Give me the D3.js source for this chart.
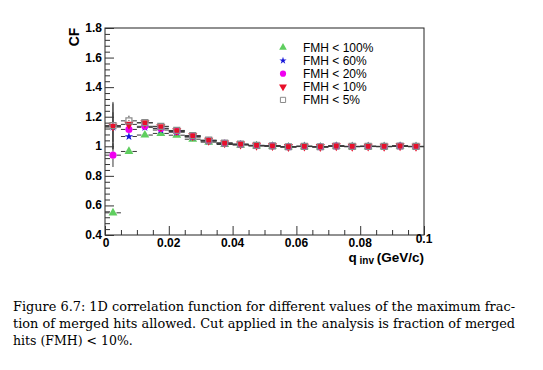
<!DOCTYPE html>
<html>
<head>
<meta charset="utf-8">
<script src="https://cdn.jsdelivr.net/npm/d3@7"></script>
<style>
  html, body { margin: 0; padding: 0; background: #fff; }
  svg { display: block; }
</style>
</head>
<body>
<div id="chart"></div>
<script>
(function () {
  'use strict';

  // bin centres of q_inv (GeV/c)
  const qBins = [0.0025, 0.0075, 0.0125, 0.0175, 0.0225, 0.0275, 0.0325, 0.0375, 0.0425, 0.0475,
                 0.0525, 0.0575, 0.0625, 0.0675, 0.0725, 0.0775, 0.0825, 0.0875, 0.0925, 0.0975];
  const binHalf = 0.0025;

  const seriesNames = ['FMH < 100%', 'FMH < 60%', 'FMH < 20%', 'FMH < 10%', 'FMH < 5%'];

  const cf100 = [0.55, 0.965, 1.076, 1.087, 1.075, 1.048, 1.028, 1.012, 1.008, 1.002,
                 1.000, 0.995, 0.998, 0.995, 1.000, 0.997, 0.998, 0.997, 1.000, 0.997];
  const cf60  = [1.13, 1.066, 1.128, 1.110, 1.095, 1.062, 1.035, 1.018, 1.012, 1.004,
                 1.002, 0.996, 0.999, 0.996, 1.001, 0.998, 0.999, 0.998, 1.001, 0.998];
  const cf20  = [0.94, 1.114, 1.135, 1.120, 1.100, 1.066, 1.037, 1.020, 1.013, 1.005,
                 1.003, 0.997, 1.000, 0.997, 1.002, 0.999, 1.000, 0.999, 1.002, 0.999];
  const cf10  = [1.135, 1.148, 1.158, 1.132, 1.105, 1.070, 1.040, 1.022, 1.014, 1.006,
                 1.003, 0.997, 1.000, 0.997, 1.002, 0.999, 1.000, 0.999, 1.002, 0.999];
  const cf5   = [1.14, 1.172, 1.160, 1.135, 1.107, 1.072, 1.041, 1.022, 1.014, 1.006,
                 1.003, 0.997, 1.000, 0.997, 1.002, 0.999, 1.000, 0.999, 1.002, 0.999];

  const err100 = [0.015, 0.012, 0.008, 0.006, 0.005, 0.004, 0.003, 0.003, 0.002, 0.002,
                  0.002, 0.002, 0.002, 0.002, 0.002, 0.002, 0.002, 0.002, 0.002, 0.002];
  const err60  = [0.10, 0.020, 0.012, 0.008, 0.006, 0.005, 0.004, 0.003, 0.003, 0.002,
                  0.002, 0.002, 0.002, 0.002, 0.002, 0.002, 0.002, 0.002, 0.002, 0.002];
  const err20  = [0.08, 0.025, 0.014, 0.009, 0.007, 0.005, 0.004, 0.003, 0.003, 0.002,
                  0.002, 0.002, 0.002, 0.002, 0.002, 0.002, 0.002, 0.002, 0.002, 0.002];
  const err10  = [0.155, 0.030, 0.016, 0.010, 0.007, 0.005, 0.004, 0.003, 0.003, 0.002,
                  0.002, 0.002, 0.002, 0.002, 0.002, 0.002, 0.002, 0.002, 0.002, 0.002];
  const err5   = [0.16, 0.035, 0.018, 0.011, 0.008, 0.006, 0.004, 0.003, 0.003, 0.002,
                  0.002, 0.002, 0.002, 0.002, 0.002, 0.002, 0.002, 0.002, 0.002, 0.002];

  const yTicks = [0.4, 0.6, 0.8, 1, 1.2, 1.4, 1.6, 1.8];
  const xTicks = [0, 0.02, 0.04, 0.06, 0.08, 0.1];

  const captionLines = [
    'Figure 6.7: 1D correlation function for different values of the maximum frac-',
    'tion of merged hits allowed. Cut applied in the analysis is fraction of merged',
    'hits (FMH) < 10%.'
  ];

  const series = [
    { name: seriesNames[0], values: cf100, errors: err100, symbol: d3.symbolTriangle, size: 34, fill: '#5fce5f', stroke: 'none', rot: 0 },
    { name: seriesNames[1], values: cf60,  errors: err60,  symbol: d3.symbolStar,     size: 22, fill: '#1414d8', stroke: 'none', rot: 0 },
    { name: seriesNames[2], values: cf20,  errors: err20,  symbol: d3.symbolCircle,   size: 40, fill: '#f000f0', stroke: 'none', rot: 0 },
    { name: seriesNames[3], values: cf10,  errors: err10,  symbol: d3.symbolTriangle, size: 36, fill: '#e8102a', stroke: 'none', rot: 180 },
    { name: seriesNames[4], values: cf5,   errors: err5,   symbol: d3.symbolSquare,   size: 36, fill: 'none',    stroke: '#8a8a8a', rot: 0 }
  ];

  const W = 543, H = 370;
  const frame = { left: 105, right: 424, top: 28, bottom: 235 };

  const svg = d3.select('#chart').append('svg')
    .attr('width', W).attr('height', H)
    .attr('viewBox', `0 0 ${W} ${H}`);

  svg.append('rect').attr('width', W).attr('height', H).attr('fill', '#fff');

  const x = d3.scaleLinear().domain([0, 0.1]).range([frame.left, frame.right]);
  const y = d3.scaleLinear().domain([0.4, 1.8]).range([frame.bottom, frame.top]);

  const labelFont = 'Liberation Sans, Arial, Helvetica, sans-serif';

  // Frame
  svg.append('rect')
    .attr('x', frame.left).attr('y', frame.top)
    .attr('width', frame.right - frame.left).attr('height', frame.bottom - frame.top)
    .attr('fill', 'none').attr('stroke', '#222').attr('stroke-width', 1);

  // Y axis: major + minor ticks pointing inward
  const yAxis = d3.axisRight(y)
    .tickValues(d3.range(0, 36).map(i => 0.4 + i * 0.04).filter(v => v <= 1.8001))
    .tickSize(0).tickFormat('');
  const gy = svg.append('g').attr('transform', `translate(${frame.left},0)`).call(yAxis);
  gy.select('.domain').remove();
  gy.selectAll('.tick').append('line')
    .attr('x1', 0)
    .attr('x2', d => (Math.abs(Math.round(d / 0.2) * 0.2 - d) < 1e-6 ? 9 : 5))
    .attr('stroke', '#333');
  svg.append('g').selectAll('text').data(yTicks).join('text')
    .attr('x', frame.left - 3).attr('y', d => y(d) + 4)
    .attr('text-anchor', 'end')
    .attr('font-family', labelFont).attr('font-weight', 'bold').attr('font-size', 12)
    .text(d => d3.format('')(d));

  // X axis: ticks pointing up
  const xAxis = d3.axisTop(x)
    .tickValues(d3.range(0, 21).map(i => i * 0.005))
    .tickSize(0).tickFormat('');
  const gx = svg.append('g').attr('transform', `translate(0,${frame.bottom})`).call(xAxis);
  gx.select('.domain').remove();
  gx.selectAll('.tick').append('line')
    .attr('y1', 0)
    .attr('y2', d => (Math.abs(Math.round(d / 0.02) * 0.02 - d) < 1e-9 ? -9 : -5))
    .attr('stroke', '#333');
  svg.append('g').selectAll('text').data(xTicks).join('text')
    .attr('x', d => x(d) + (d === 0 ? 1 : 0)).attr('y', d => frame.bottom + (d === 0.1 ? 8 : 12))
    .attr('text-anchor', 'middle')
    .attr('font-family', labelFont).attr('font-weight', 'bold').attr('font-size', 12)
    .text(d => d3.format('')(d));

  // Axis titles
  svg.append('text')
    .attr('transform', `translate(79,${frame.top + 9}) rotate(-90)`)
    .attr('text-anchor', 'middle')
    .attr('font-family', labelFont).attr('font-weight', 'bold').attr('font-size', 14)
    .text('CF');
  const xt = svg.append('text')
    .attr('x', frame.right).attr('y', frame.bottom + 27)
    .attr('text-anchor', 'end')
    .attr('font-family', labelFont).attr('font-weight', 'bold').attr('font-size', 13.5);
  xt.append('tspan').text('q');
  xt.append('tspan').attr('font-size', 10).attr('dy', 2).text(' inv ');
  xt.append('tspan').attr('dy', -2).text('(GeV/c)');

  // Error bars with a gap round the marker
  const gap = 3.5;
  const plot = svg.append('g');
  series.forEach(s => {
    const g = plot.append('g');
    qBins.forEach((q, i) => {
      const cx = x(q), cy = y(s.values[i]);
      const segs = [
        [x(q - binHalf), cy, cx - gap, cy],
        [cx + gap, cy, x(q + binHalf), cy]
      ];
      const yHi = y(s.values[i] + s.errors[i]), yLo = y(s.values[i] - s.errors[i]);
      if (cy - yHi > gap) segs.push([cx, yHi, cx, cy - gap]);
      if (yLo - cy > gap) segs.push([cx, cy + gap, cx, yLo]);
      segs.forEach(sg => g.append('line')
        .attr('x1', sg[0]).attr('y1', sg[1]).attr('x2', sg[2]).attr('y2', sg[3])
        .attr('stroke', '#3a3a3a').attr('stroke-width', 1));
    });
  });

  // Markers
  series.forEach(s => {
    plot.append('g').selectAll('path').data(qBins).join('path')
      .attr('d', d3.symbol().type(s.symbol).size(s.size))
      .attr('transform', (q, i) => `translate(${x(q)},${y(s.values[i])}) rotate(${s.rot})`)
      .attr('fill', s.fill).attr('stroke', s.stroke).attr('stroke-width', 1.2);
  });

  // Legend
  const legend = svg.append('g');
  series.forEach((s, i) => {
    const ly = 47.5 + i * 13.1;
    legend.append('path')
      .attr('d', d3.symbol().type(s.symbol).size(s.size * 0.75))
      .attr('transform', `translate(283,${ly}) rotate(${s.rot})`)
      .attr('fill', s.fill).attr('stroke', s.stroke).attr('stroke-width', 1);
    legend.append('text')
      .attr('x', 303).attr('y', ly + 4.5)
      .attr('font-family', labelFont).attr('font-size', 12)
      .text(s.name);
  });

  // Caption
  const capFont = 'DejaVu Serif, Liberation Serif, serif';
  const capWidths = [502, 502, null];
  svg.append('g').selectAll('text').data(captionLines).join('text')
    .attr('x', 13).attr('y', (d, i) => 311 + i * 17)
    .attr('font-family', capFont).attr('font-size', 12.5)
    .each(function (d, i) {
      const t = d3.select(this).text(d);
      if (capWidths[i]) t.attr('textLength', capWidths[i]).attr('lengthAdjust', 'spacingAndGlyphs');
    });
})();
</script>
</body>
</html>
